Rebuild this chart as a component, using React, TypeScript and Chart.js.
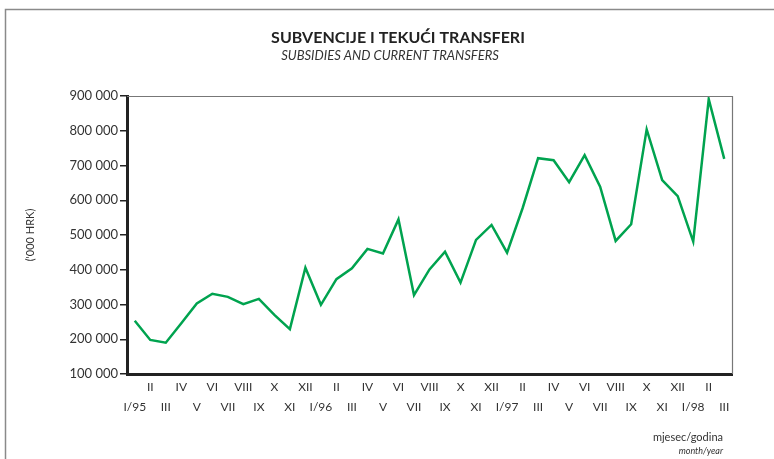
import React, { useEffect, useRef } from "react";
import { Chart, registerables } from "chart.js";

Chart.register(...registerables);

const months = ["I", "II", "III", "IV", "V", "VI", "VII", "VIII", "IX", "X", "XI", "XII"];
const years = ["95", "96", "97", "98"];
const monthCount = 39;
const values = [
  253000, 198000, 190000, 246000, 303000, 331000, 322000, 301000, 316000, 270000, 229000, 406000,
  299000, 373000, 404000, 460000, 447000, 545000, 327000, 401000, 452000, 363000, 486000, 529000,
  449000, 577000, 721000, 715000, 652000, 730000, 639000, 483000, 531000, 804000, 658000, 612000,
  481000, 891000, 719000,
];
const titleText = "SUBVENCIJE I TEKUĆI TRANSFERI";
const subtitleText = "SUBSIDIES AND CURRENT TRANSFERS";
const yTitle = "('000 HRK)";
const xTitle1 = "mjesec/godina";
const xTitle2 = "month/year";

const labelTexts: string[] = [];
for (let i = 0; i < monthCount; i++) {
  const m = i % 12;
  const y = Math.floor(i / 12);
  labelTexts.push(m === 0 ? `${months[m]}/${years[y]}` : months[m]);
}
// staggered two-row labels: even index on lower row, odd index on upper row
const labels = labelTexts.map((t, i) => (i % 2 === 0 ? ["", t] : [t, ""]));

const FONT = "Lato, 'Open Sans', sans-serif";

const decorPlugin = {
  id: "decor",
  beforeDraw(chart: any) {
    const ctx = chart.ctx;
    ctx.save();
    ctx.fillStyle = "#fff";
    ctx.fillRect(0, 0, chart.width, chart.height);
    // frame
    ctx.strokeStyle = "#8a8a8a";
    ctx.lineWidth = 1.5;
    ctx.beginPath();
    ctx.moveTo(5.5, chart.height);
    ctx.lineTo(5.5, 9.5);
    ctx.lineTo(chart.width, 9.5);
    ctx.stroke();
    ctx.restore();
  },
  afterDraw(chart: any) {
    const ctx = chart.ctx;
    const a = chart.chartArea;
    ctx.save();
    // top & right plot border
    ctx.strokeStyle = "#777";
    ctx.lineWidth = 1.2;
    ctx.beginPath();
    ctx.moveTo(a.left, a.top + 0.5);
    ctx.lineTo(a.right + 0.5, a.top + 0.5);
    ctx.lineTo(a.right + 0.5, a.bottom);
    ctx.stroke();
    // titles
    ctx.fillStyle = "#222";
    ctx.textAlign = "center";
    ctx.textBaseline = "middle";
    ctx.font = `bold 16px ${FONT}`;
    ctx.fillText(titleText, 398, 38);
    ctx.fillStyle = "#333";
    ctx.font = `italic 13px ${FONT}`;
    ctx.fillText(subtitleText, 390, 56);
    // bottom right axis caption
    ctx.textAlign = "right";
    ctx.font = `11px ${FONT}`;
    ctx.fillText(xTitle1, 723, 437);
    ctx.font = `italic 9px ${FONT}`;
    ctx.fillText(xTitle2, 723, 451);
    ctx.restore();
  },
};

export default function App() {
  const ref = useRef<HTMLCanvasElement>(null);
  useEffect(() => {
    if (!ref.current) return;
    const chart = new Chart(ref.current, {
      type: "line",
      data: {
        labels,
        datasets: [
          {
            data: values,
            borderColor: "#00a34f",
            borderWidth: 2.5,
            pointRadius: 0,
            tension: 0,
            fill: false,
          },
        ],
      },
      options: {
        animation: false,
        responsive: false,
        maintainAspectRatio: false,
        layout: { padding: { left: 20, right: 42, top: 96, bottom: 0 } },
        plugins: { legend: { display: false }, tooltip: { enabled: false }, title: { display: false } },
        scales: {
          x: {
            offset: true,
            grid: { display: false, drawOnChartArea: false, drawTicks: false },
            border: { display: true, color: "#222", width: 3 },
            ticks: {
              autoSkip: false,
              maxRotation: 0,
              minRotation: 0,
              padding: 4,
              color: "#333",
              font: { family: FONT, size: 12, lineHeight: 1.6 },
            },
            afterFit(scale: any) {
              scale.height = 85;
            },
          },
          y: {
            min: 100000,
            max: 900000,
            grid: { display: true, drawOnChartArea: false, drawTicks: true, tickLength: 7, color: "#222", lineWidth: 1.5 },
            border: { display: true, color: "#222", width: 3 },
            ticks: {
              stepSize: 100000,
              padding: 2,
              color: "#333",
              font: { family: FONT, size: 13 },
              callback: (v: any) => String(v).replace(/\B(?=(\d{3})+(?!\d))/g, " "),
            },
            title: {
              display: true,
              text: yTitle,
              color: "#333",
              font: { family: FONT, size: 11 },
              padding: { top: 4, bottom: 0 },
            },
            afterFit(scale: any) {
              scale.width = 107;
            },
          },
        },
      },
      plugins: [decorPlugin],
    });
    return () => chart.destroy();
  }, []);
  return (
    <div style={{ position: "absolute", left: 0, top: 0, width: 774, height: 459 }}>
      <canvas ref={ref} width={774} height={459} style={{ width: 774, height: 459 }} />
    </div>
  );
}
